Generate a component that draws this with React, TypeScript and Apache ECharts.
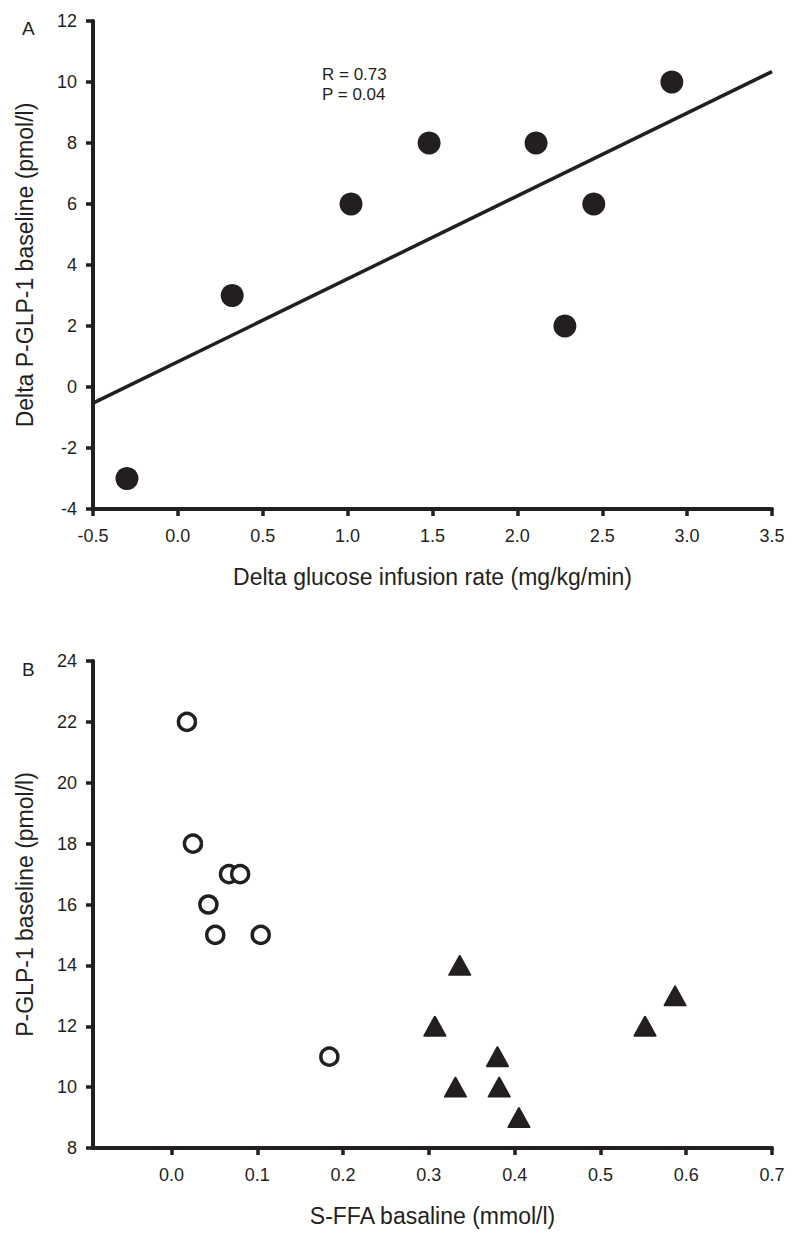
import React, { useEffect, useRef } from "react";
import * as echarts from "echarts";

// Panel A data
const aX = [-0.3, 0.32, 1.02, 1.48, 2.11, 2.28, 2.45, 2.91];
const aY = [-3, 3, 6, 8, 8, 2, 6, 10];
const fitX = [-0.5, 3.5];
const fitY = [-0.53, 10.34];
const statsText = ["R = 0.73", "P = 0.04"];

// Panel B data
const openX = [0.018, 0.025, 0.067, 0.08, 0.043, 0.051, 0.104, 0.184];
const openY = [22, 18, 17, 17, 16, 15, 15, 11];
const triX = [0.336, 0.307, 0.38, 0.331, 0.382, 0.405, 0.552, 0.587];
const triY = [14, 12, 11, 10, 10, 9, 12, 13];
const bXTicks = [0.0, 0.1, 0.2, 0.3, 0.4, 0.5, 0.6, 0.7];

const INK = "#231f20";
const FONT = "'Liberation Sans', Arial, Helvetica, sans-serif";

export default function App() {
  const ref = useRef<HTMLDivElement>(null);
  useEffect(() => {
    document.body.style.margin = "0";
    const chart = echarts.init(ref.current!, null, { renderer: "svg" });
    const axisCommon = {
      axisLine: { show: true, onZero: false, lineStyle: { color: INK, width: 4 } },
      axisTick: { show: true, inside: false, length: 7, lineStyle: { color: INK, width: 3.5 } },
      splitLine: { show: false },
      nameLocation: "middle" as const,
      nameTextStyle: { color: INK, fontSize: 23, fontFamily: FONT },
    };
    const labelStyle = { color: INK, fontSize: 18, fontFamily: FONT };
    chart.setOption({
      animation: false,
      backgroundColor: "#ffffff",
      textStyle: { fontFamily: FONT },
      grid: [
        { left: 93, top: 21, width: 679, height: 488 },
        { left: 93, top: 661, width: 679, height: 487 },
      ],
      xAxis: [
        {
          ...axisCommon,
          gridIndex: 0,
          type: "value",
          min: -0.5,
          max: 3.5,
          interval: 0.5,
          name: "Delta glucose infusion rate (mg/kg/min)",
          nameGap: 56,
          axisLabel: {
            ...labelStyle,
            margin: 18,
            formatter: (v: number) => v.toFixed(1),
          },
        },
        {
          ...axisCommon,
          gridIndex: 1,
          type: "value",
          min: -0.0915,
          max: 0.7,
          name: "S-FFA basaline (mmol/l)",
          nameGap: 56,
          axisTick: { ...axisCommon.axisTick, customValues: bXTicks },
          axisLabel: {
            ...labelStyle,
            margin: 18,
            customValues: bXTicks,
            formatter: (v: number) => v.toFixed(1),
          },
        },
      ],
      yAxis: [
        {
          ...axisCommon,
          gridIndex: 0,
          type: "value",
          min: -4,
          max: 12,
          interval: 2,
          name: "Delta P-GLP-1 baseline (pmol/l)",
          nameGap: 57,
          axisLabel: { ...labelStyle, margin: 16 },
        },
        {
          ...axisCommon,
          gridIndex: 1,
          type: "value",
          min: 8,
          max: 24,
          interval: 2,
          name: "P-GLP-1 baseline (pmol/l)",
          nameGap: 57,
          axisLabel: { ...labelStyle, margin: 16 },
        },
      ],
      series: [
        {
          type: "line",
          xAxisIndex: 0,
          yAxisIndex: 0,
          data: fitX.map((x, i) => [x, fitY[i]]),
          symbol: "none",
          lineStyle: { color: INK, width: 3.5 },
          silent: true,
        },
        {
          type: "scatter",
          xAxisIndex: 0,
          yAxisIndex: 0,
          data: aX.map((x, i) => [x, aY[i]]),
          symbol: "circle",
          symbolSize: 23,
          itemStyle: { color: INK, opacity: 1 },
        },
        {
          type: "scatter",
          xAxisIndex: 1,
          yAxisIndex: 1,
          data: openX.map((x, i) => [x, openY[i]]),
          symbol: "circle",
          symbolSize: 17,
          itemStyle: { color: "#ffffff", borderColor: INK, borderWidth: 3.5, opacity: 1 },
        },
        {
          type: "scatter",
          xAxisIndex: 1,
          yAxisIndex: 1,
          data: triX.map((x, i) => [x, triY[i]]),
          symbol: "triangle",
          symbolSize: [21, 19],
          itemStyle: { color: INK, borderColor: INK, borderWidth: 2, borderJoin: "round", opacity: 1 },
        },
      ],
      graphic: [
        {
          type: "text",
          left: 22,
          top: 19,
          style: { text: "A", fill: INK, fontSize: 19, fontFamily: FONT },
        },
        {
          type: "text",
          left: 22,
          top: 660,
          style: { text: "B", fill: INK, fontSize: 19, fontFamily: FONT },
        },
        {
          type: "text",
          left: 322,
          top: 64,
          style: {
            text: statsText.join("\n"),
            fill: INK,
            fontSize: 17,
            lineHeight: 20,
            fontFamily: FONT,
          },
        },
      ],
    });
    return () => chart.dispose();
  }, []);
  return (
    <div
      ref={ref}
      style={{ position: "absolute", left: 0, top: 0, width: 800, height: 1243, background: "#fff" }}
    />
  );
}
